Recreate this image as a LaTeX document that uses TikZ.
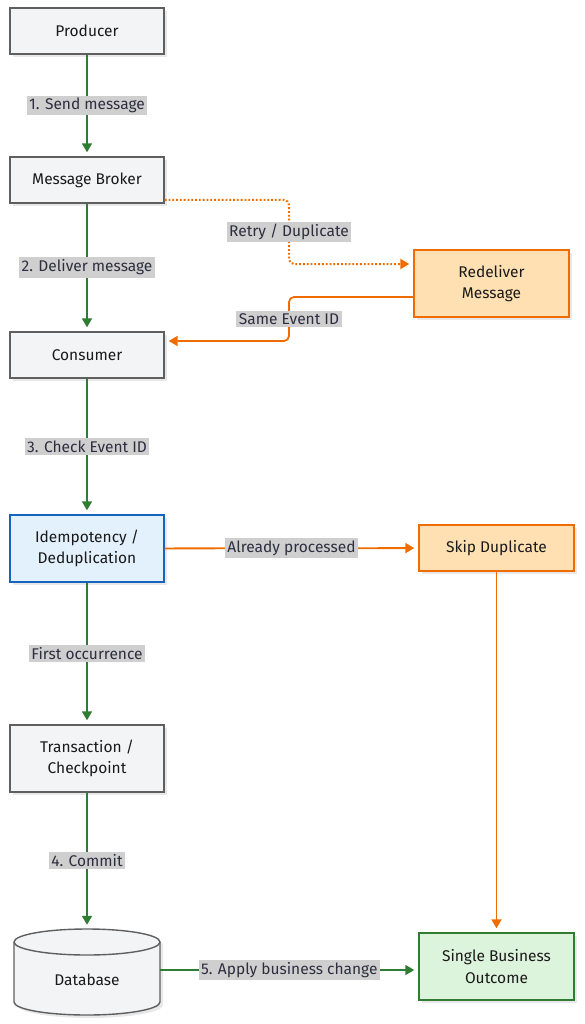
\documentclass[tikz,border=0pt]{standalone}
\usepackage{fontspec}
\setmainfont{Fira Sans}
\usetikzlibrary{arrows.meta,shadows}
\definecolor{grayfill}{HTML}{F3F4F6}
\definecolor{grayline}{HTML}{5F5F5F}
\definecolor{bluefill}{HTML}{E3F1FD}
\definecolor{blueline}{HTML}{1565C0}
\definecolor{orangefill}{HTML}{FFE0B2}
\definecolor{orangeline}{HTML}{EF6C00}
\definecolor{greenfill}{HTML}{DCF3DC}
\definecolor{greenline}{HTML}{2E7D32}
\definecolor{lblgray}{HTML}{CFCFCF}
\definecolor{lbltext}{HTML}{2E2E40}
\definecolor{nodetext}{HTML}{1A1A1A}
\begin{document}
\begin{tikzpicture}[x=1pt,y=-1pt,
  font=\fontsize{15.5}{21.5}\selectfont,
  box/.style={draw=grayline, fill=grayfill, line width=1.4pt, minimum width=154pt, minimum height=46pt, align=center, text=nodetext,
    drop shadow={shadow xshift=3pt, shadow yshift=-3pt, fill=black!9, opacity=1}},
  tallbox/.style={box, minimum height=67pt},
  bluebox/.style={tallbox, draw=blueline, fill=bluefill},
  orangebox/.style={box, draw=orangeline, fill=orangefill, minimum width=155pt},
  greenbox/.style={tallbox, draw=greenline, fill=greenfill, minimum width=155pt},
  lbl/.style={fill=lblgray, text=lbltext, inner sep=2.5pt, sharp corners, solid},
  tip/.style={-{Triangle[length=9pt,width=10pt]}},
  gedge/.style={draw=greenline, line width=1.8pt, tip, shorten >=4pt},
  oedge/.style={draw=orangeline, line width=1.8pt, tip, shorten >=4pt, rounded corners=5pt},
]
\useasboundingbox (0,0) rectangle (584,1024);

\node[box] (prod) at (87,31) {Producer};
\node[box] (broker) at (87,180) {Message Broker};
\node[box] (cons) at (87,355) {Consumer};
\node[bluebox] (idem) at (87,548.5) {Idempotency /\\Deduplication};
\node[tallbox] (tx) at (87,758.5) {Transaction /\\Checkpoint};
\node[orangebox, minimum height=67pt] (redel) at (491.5,283.5) {Redeliver\\Message};
\node[orangebox] (skip) at (496.5,548) {Skip Duplicate};
\node[greenbox] (sbo) at (496.5,966.5) {Single Business\\Outcome};

% database cylinder
\fill[black!9] (17,945) -- (17,1005) arc[start angle=180,end angle=360,x radius=73pt,y radius=13pt] -- (163,945) arc[start angle=0,end angle=180,x radius=73pt,y radius=13pt] -- cycle;
\draw[draw=grayline, fill=grayfill, line width=1.4pt] (14,942) -- (14,1002) arc[start angle=180,end angle=360,x radius=73pt,y radius=13pt] -- (160,942) arc[start angle=0,end angle=180,x radius=73pt,y radius=13pt] -- cycle;
\draw[draw=grayline, line width=1.4pt] (14,942) arc[start angle=180,end angle=360,x radius=73pt,y radius=13pt];
\node[minimum width=146pt, minimum height=86pt, text=nodetext] (db) at (87,972) {};
\node[text=nodetext] (dbtext) at (87,980) {Database};

% main flow
\draw[gedge] (prod) -- node[lbl] (l1) {1. Send message} (broker);
\draw[gedge] (broker) -- node[lbl] (l2) {2. Deliver message} (cons);
\draw[gedge] (cons) -- node[lbl] (l3) {3. Check Event ID} (idem);
\draw[gedge] (idem) -- node[lbl] (l4) {First occurrence} (tx);
\draw[gedge] (tx) -- node[lbl] (l5) {4. Commit} (db);

% retry loop
\coordinate (bstart) at ([yshift=-20pt]broker.east);
\coordinate (rin) at ([yshift=19.5pt]redel.west);
\draw[oedge, dotted, line width=2pt] (bstart) -- (289,200) -- node[lbl] (l6) {Retry / Duplicate} (289,264) -- (rin);
\coordinate (rout) at ([yshift=-13.5pt]redel.west);
\coordinate (cin) at ([yshift=14pt]cons.east);
\draw[oedge] (rout) -- (289,297) -- node[lbl] (l7) {Same Event ID} (289,341) -- (cin);

% duplicate path
\draw[oedge] (idem) -- node[lbl] (l8) {Already processed} (skip);
\draw[oedge] (skip) -- (sbo);

% apply
\coordinate (dbout) at ([yshift=2pt]db.east);
\draw[gedge] (dbout) -- node[lbl] (l9) {5. Apply business change} (dbout -| sbo.west);
\end{tikzpicture}
\end{document}
